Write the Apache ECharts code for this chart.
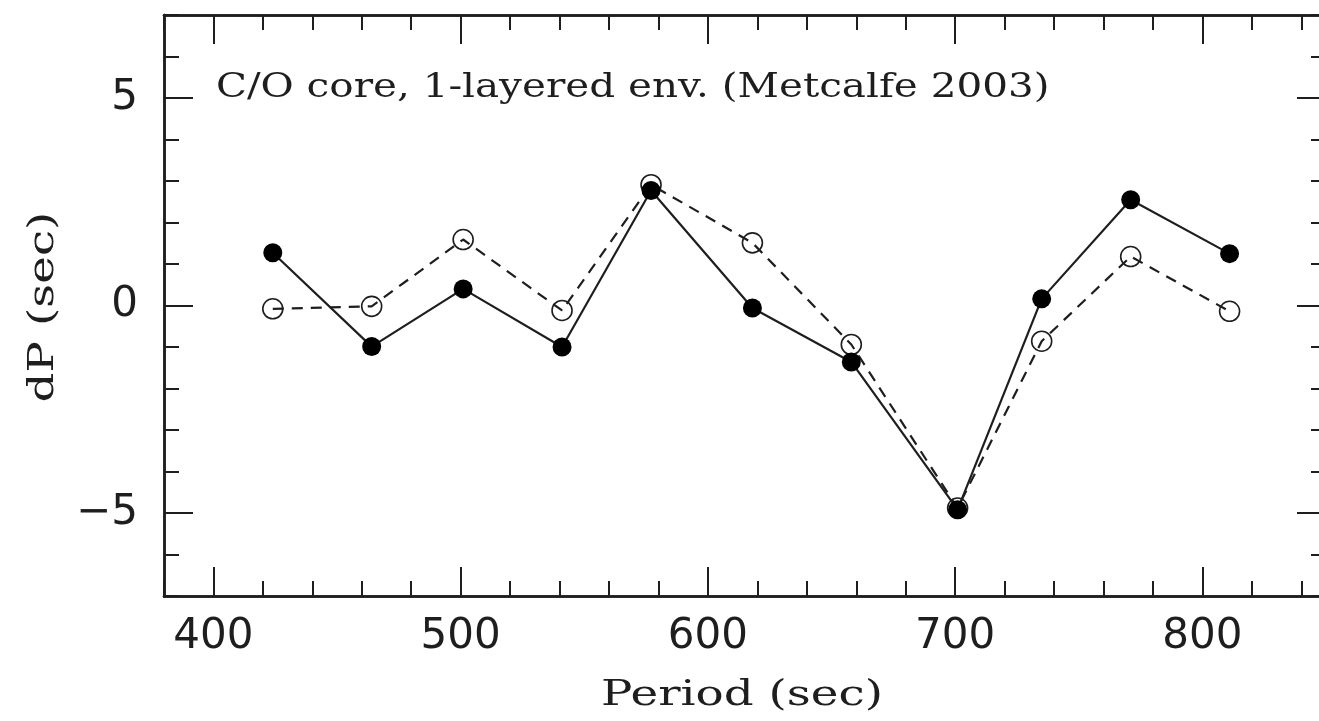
<!DOCTYPE html>
<html>
<head>
<meta charset="utf-8">
<script src="https://cdn.jsdelivr.net/npm/echarts@6/dist/echarts.min.js"></script>
<style>
  html, body { margin: 0; padding: 0; background: #fff; overflow: hidden; }
  #chart { width: 1319px; height: 721px; }
</style>
</head>
<body>
<div id="chart"></div>
<script>
// Pulsation periods (sec) and period differences dP (sec)
const periods = [424, 464, 501, 541, 577, 618, 658, 701, 735, 771, 811];
const dpFilled = [1.27, -0.99, 0.40, -1.00, 2.77, -0.06, -1.36, -4.92, 0.16, 2.55, 1.25];
const dpOpen = [-0.08, -0.02, 1.59, -0.12, 2.91, 1.51, -0.94, -4.88, -0.86, 1.18, -0.14];

// Axis ticks and labels
const xMajorTicks = [400, 500, 600, 700, 800];
const yMajorTicks = [-5, 0, 5];
const xRange = [380, 850];
const yRange = [-7, 7];
const xMinorStep = 20;
const yMinorStep = 1;

const annotation = 'C/O core, 1-layered env. (Metcalfe 2003)';
const xName = 'Period (sec)';
const yName = 'dP (sec)';

const ink = '#1e1e1e';
const numFont = 'DejaVu Sans';
const serifFont = 'DejaVu Serif';

const toPairs = (xs, ys) => xs.map((x, i) => [x, ys[i]]);

function xAxisDef(position, major, showLabel) {
  return {
    type: 'value', position, min: xRange[0], max: xRange[1],
    interval: major ? undefined : xMinorStep,
    axisLine: { show: true, onZero: false, lineStyle: { color: ink, width: 2.5 } },
    axisTick: major
      ? { show: true, inside: true, length: 29, customValues: xMajorTicks, lineStyle: { color: ink, width: 2 } }
      : { show: true, inside: true, length: 15, lineStyle: { color: ink, width: 2 } },
    axisLabel: showLabel
      ? { show: true, customValues: xMajorTicks, margin: 20, fontFamily: numFont, fontSize: 42, color: ink }
      : { show: false },
    splitLine: { show: false }
  };
}

function yAxisDef(position, major, showLabel) {
  return {
    type: 'value', position, min: yRange[0], max: yRange[1],
    interval: major ? undefined : yMinorStep,
    axisLine: { show: true, onZero: false, lineStyle: { color: ink, width: 2.5 } },
    axisTick: major
      ? { show: true, inside: true, length: 29, customValues: yMajorTicks, lineStyle: { color: ink, width: 2 } }
      : { show: true, inside: true, length: 15, lineStyle: { color: ink, width: 2 } },
    axisLabel: showLabel
      ? { show: true, customValues: yMajorTicks, margin: 26, fontFamily: numFont, fontSize: 42, color: ink,
          formatter: v => (v < 0 ? '\u2212' + Math.abs(v) : String(v)) }
      : { show: false },
    splitLine: { show: false }
  };
}

const chart = echarts.init(document.getElementById('chart'), null, { renderer: 'canvas' });

chart.setOption({
  animation: false,
  backgroundColor: '#fff',
  // the frame's right edge lies a few pixels beyond the canvas
  grid: { left: 164, top: 15, width: 1162, height: 581, containLabel: false, outerBoundsMode: 'none' },
  xAxis: [
    xAxisDef('bottom', true, true),
    xAxisDef('bottom', false, false),
    xAxisDef('top', true, false),
    xAxisDef('top', false, false)
  ],
  yAxis: [
    yAxisDef('left', true, true),
    yAxisDef('left', false, false),
    yAxisDef('right', true, false),
    yAxisDef('right', false, false)
  ],
  graphic: [
    {
      type: 'text', x: 216, y: 88, scaleX: 1.19, z: 10,
      style: { text: annotation, fontFamily: serifFont, fontSize: 34, fill: ink,
               textAlign: 'left', textVerticalAlign: 'middle' }
    },
    {
      type: 'text', x: 742, y: 696, scaleX: 1.3, z: 10,
      style: { text: xName, fontFamily: serifFont, fontSize: 36, fill: ink,
               textAlign: 'center', textVerticalAlign: 'middle' }
    },
    {
      type: 'text', x: 44, y: 307, rotation: Math.PI / 2, scaleX: 1.3, z: 10,
      style: { text: yName, fontFamily: serifFont, fontSize: 36, fill: ink,
               textAlign: 'center', textVerticalAlign: 'middle' }
    }
  ],
  series: [
    {
      name: 'open', type: 'line', xAxisIndex: 0, yAxisIndex: 0,
      data: toPairs(periods, dpOpen),
      symbol: 'circle', symbolSize: 20,
      lineStyle: { color: ink, width: 2.2, type: [11, 8] },
      itemStyle: { color: 'rgba(255,255,255,0)', borderColor: ink, borderWidth: 1.6 },
      z: 2
    },
    {
      name: 'filled', type: 'line', xAxisIndex: 0, yAxisIndex: 0,
      data: toPairs(periods, dpFilled),
      symbol: 'circle', symbolSize: 19,
      lineStyle: { color: ink, width: 2.2 },
      itemStyle: { color: '#000' },
      z: 3
    }
  ]
});
</script>
</body>
</html>
